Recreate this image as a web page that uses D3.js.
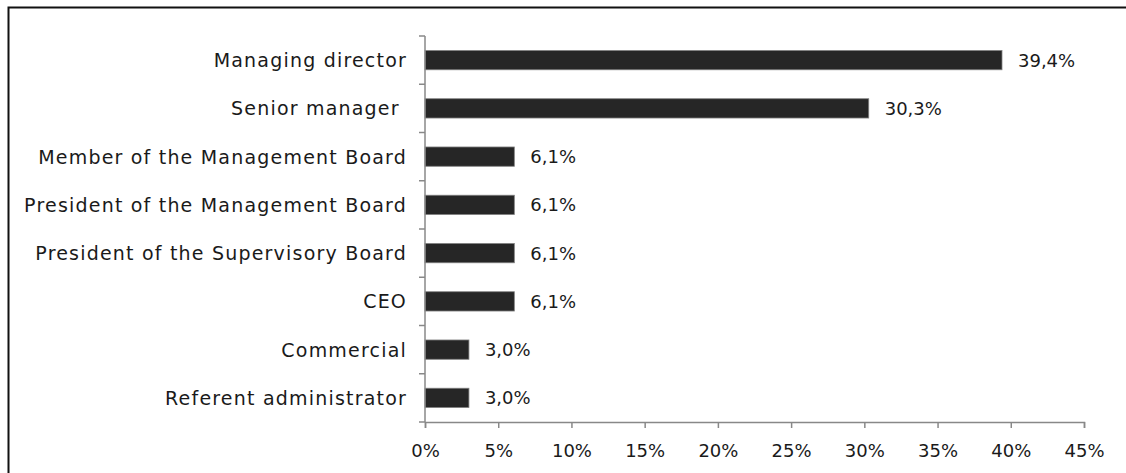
<!DOCTYPE html>
<html>
<head>
<meta charset="utf-8">
<script src="https://cdn.jsdelivr.net/npm/d3@7"></script>
<style>
  body { margin: 0; background: #fff; }
  svg { display: block; }
  text { font-family: "DejaVu Sans", sans-serif; fill: #1a1a1a; }
</style>
</head>
<body>
<div id="chart"></div>
<script>
// data
const categories = [
    'Managing director',
    'Senior manager ',
    'Member of the Management Board',
    'President of the Management Board',
    'President of the Supervisory Board',
    'CEO',
    'Commercial',
    'Referent administrator'
]
const shares = [39.4, 30.3, 6.1, 6.1, 6.1, 6.1, 3.0, 3.0]
const xTicks = [0, 5, 10, 15, 20, 25, 30, 35, 40, 45]

const width = 1126
const height = 473
const margin = { top: 36, right: 42, bottom: 51, left: 425 }

const rows = categories.map((c, i) => ({ name: c, value: shares[i] }))

const svg = d3.select('#chart').append('svg')
    .attr('width', width)
    .attr('height', height)

// frame (only top and left edges visible in the picture)
svg.append('path')
    .attr('d', `M8.5,${height} V7.5 H${width}`)
    .attr('fill', 'none')
    .attr('stroke', '#111')
    .attr('stroke-width', 2)

const x = d3.scaleLinear()
    .domain([0, 45])
    .range([margin.left, width - margin.right])

const y = d3.scaleBand()
    .domain(categories)
    .range([margin.top, height - margin.bottom])
    .paddingInner(0.6)
    .paddingOuter(0.3)

// bars
svg.append('g')
    .attr('class', 'bars')
    .selectAll('rect')
    .data(rows)
    .enter()
    .append('rect')
    .attr('x', x(0))
    .attr('y', d => y(d.name))
    .attr('width', d => x(d.value) - x(0))
    .attr('height', y.bandwidth())
    .attr('fill', '#262626')
    .attr('stroke', '#808080')
    .attr('stroke-width', 0.8)

// value labels
svg.append('g')
    .attr('class', 'value_labels')
    .selectAll('text')
    .data(rows)
    .enter()
    .append('text')
    .attr('x', d => x(d.value) + 16)
    .attr('y', d => y(d.name) + y.bandwidth() / 2)
    .attr('dominant-baseline', 'central')
    .attr('font-size', 18)
    .text(d => d.value.toFixed(1).replace('.', ',') + '%')

// category axis: line with tick marks between categories
const yAxisG = svg.append('g').attr('class', 'y_axis')
const step = y.step()
const bandTop = margin.top
yAxisG.append('line')
    .attr('x1', x(0)).attr('x2', x(0))
    .attr('y1', bandTop).attr('y2', height - margin.bottom)
    .attr('stroke', '#888').attr('stroke-width', 1.5)
yAxisG.selectAll('.ytick')
    .data(d3.range(categories.length + 1))
    .enter()
    .append('line')
    .attr('class', 'ytick')
    .attr('x1', x(0) - 6).attr('x2', x(0))
    .attr('y1', i => bandTop + i * step)
    .attr('y2', i => bandTop + i * step)
    .attr('stroke', '#888').attr('stroke-width', 1.5)

yAxisG.selectAll('.ylabel')
    .data(categories)
    .enter()
    .append('text')
    .attr('class', 'ylabel')
    .attr('x', x(0) - 18)
    .attr('y', d => y(d) + y.bandwidth() / 2)
    .attr('text-anchor', 'end')
    .attr('dominant-baseline', 'central')
    .attr('font-size', 19)
    .attr('letter-spacing', 1.2)
    .style('white-space', 'pre')
    .text(d => d)

// value axis
const xAxis = d3.axisBottom(x)
    .tickValues(xTicks)
    .tickFormat(d => d + '%')
    .tickSize(6)
    .tickPadding(16)

const xAxisG = svg.append('g')
    .attr('class', 'x_axis')
    .attr('transform', `translate(0,${height - margin.bottom})`)
    .call(xAxis)

xAxisG.select('.domain').attr('stroke', '#888').attr('stroke-width', 1.5)
xAxisG.selectAll('.tick line').attr('stroke', '#888').attr('stroke-width', 1.5)
xAxisG.selectAll('.tick text')
    .attr('font-size', 18)
    .attr('font-family', '"DejaVu Sans", sans-serif')
    .attr('fill', '#1a1a1a')
</script>
</body>
</html>
